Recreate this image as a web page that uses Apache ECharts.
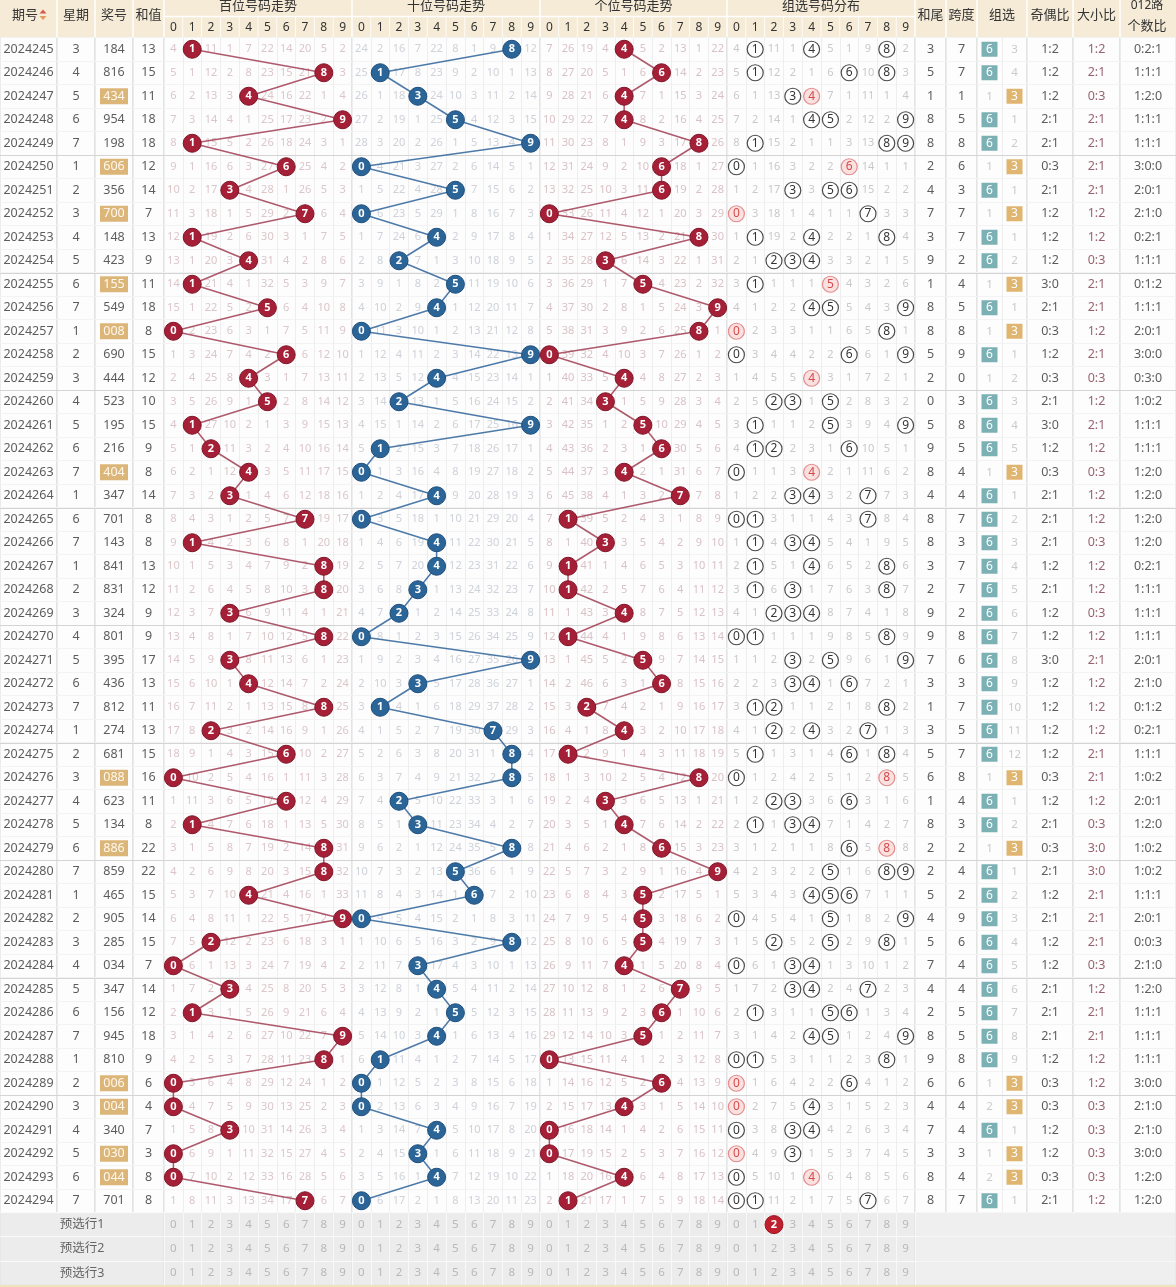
<!DOCTYPE html>
<html><head><meta charset="utf-8">
<script src="https://cdn.jsdelivr.net/npm/echarts@6/dist/echarts.min.js"></script>
<style>html,body{margin:0;padding:0;background:#fff}#c{width:1176px;height:1287px}</style>
</head><body><div id="c"></div><script>
// ---------------- DATA ----------------
const issues = [2024245,2024246,2024247,2024248,2024249,2024250,2024251,2024252,2024253,2024254,
  2024255,2024256,2024257,2024258,2024259,2024260,2024261,2024262,2024263,2024264,
  2024265,2024266,2024267,2024268,2024269,2024270,2024271,2024272,2024273,2024274,
  2024275,2024276,2024277,2024278,2024279,2024280,2024281,2024282,2024283,2024284,
  2024285,2024286,2024287,2024288,2024289,2024290,2024291,2024292,2024293,2024294];
const weekdays = [3,4,5,6,7,1,2,3,4,5, 6,7,1,2,3,4,5,6,7,1, 6,7,1,2,3,4,5,6,7,1, 2,3,4,5,6,7,1,2,3,4, 5,6,7,1,2,3,4,5,6,7];
const draws = ["184","816","434","954","198","606","356","700","148","423",
  "155","549","008","690","444","523","195","216","404","347",
  "701","143","841","831","324","801","395","436","812","274",
  "681","088","623","134","886","859","465","905","285","034",
  "347","156","945","810","006","004","340","030","044","701"];
const sums = [13,15,11,18,18,12,14,7,13,9, 11,18,8,15,12,10,15,9,8,14, 8,8,13,12,9,9,17,13,11,13,
  15,16,11,8,22,22,15,14,15,7, 14,12,18,9,6,4,7,3,8,8];
// omission values shown in the first row (2024245); hit cells marked 0
const firstBai = [4,0,11,1,7,22,14,20,5,2];
const firstShi = [24,2,16,7,22,8,1,9,0,12];
const firstGe  = [7,26,19,4,0,5,2,13,1,22];
const firstZu  = [4,0,11,1,0,5,1,9,0,2];
const firstZu6 = 0, firstZu3 = 3;
const digitLabels = ["0","1","2","3","4","5","6","7","8","9"];
const presetLabels = ["预选行1","预选行2","预选行3"];
const presetPick = {row:0, digit:2};   // red ball in 组选 preselect row 1
const groupTitles = ["百位号码走势","十位号码走势","个位号码走势","组选号码分布"];

// ---------------- derived tables ----------------
const D = draws.map(s => s.split('').map(Number));
function omission(first, hitsPerRow) {
  const out = []; let prev = null;
  hitsPerRow.forEach((h, r) => {
    const row = [];
    for (let d = 0; d < 10; d++) row.push(h.includes(d) ? 0 : (r === 0 ? first[d] : prev[d] + 1));
    out.push(row); prev = row;
  });
  return out;
}
const omBai = omission(firstBai, D.map(x => [x[0]]));
const omShi = omission(firstShi, D.map(x => [x[1]]));
const omGe  = omission(firstGe,  D.map(x => [x[2]]));
const omZu  = omission(firstZu,  D.map(x => x));
const kinds = D.map(x => new Set(x).size); // 3 组六, 2 组三, 1 豹子
let z6 = [], z3 = [];
kinds.forEach((k, r) => {
  z6.push(k === 3 ? 0 : (r === 0 ? firstZu6 : z6[r-1] + 1));
  z3.push(k === 2 ? 0 : (r === 0 ? firstZu3 : z3[r-1] + 1));
});

// ---------------- layout ----------------
const FONT = "'Noto Sans','Noto Sans CJK SC',sans-serif";
const TOP = 37.5, ROW_H = 23.5, NROWS = issues.length;
const PRE_TOP = TOP + NROWS * ROW_H, PRE_H = 24.2;
const cols = [
  {key:'issue', left:0, width:57, n:1}, {key:'week', left:57, width:38, n:1},
  {key:'draw', left:95, width:38, n:1}, {key:'sum', left:133, width:31, n:1},
  {key:'bai', left:164, width:188, n:10}, {key:'shi', left:352, width:188, n:10},
  {key:'ge', left:540, width:187, n:10}, {key:'zu', left:727, width:188, n:10},
  {key:'tail', left:915, width:31, n:1}, {key:'span', left:946, width:31, n:1},
  {key:'zx', left:977, width:50, n:2}, {key:'oe', left:1027, width:46, n:1},
  {key:'bs', left:1073, width:47, n:1}, {key:'r012', left:1120, width:56, n:1}
];
const grids = [], xAxes = [], yAxes = [], series = [];
function addGrid(l, t, w, h, n, rows, o) {
  const idx = grids.length;
  grids.push({left:l, top:t, width:w, height:h, show:true, backgroundColor:o.bg, borderColor:o.border, borderWidth:1, containLabel:false, outerBoundsMode:'none'});
  xAxes.push({type:'category', gridIndex:idx, data: digitLabels.slice(0, n), position:'top',
    axisLine:{show:false}, axisTick:{show:false},
    axisLabel: o.xLabel ? {show:true, interval:0, margin:4, fontSize:12, color:'#333', fontFamily:FONT} : {show:false},
    splitLine:{show:n > 1, interval:0, lineStyle:{color:o.vline, width:1}}});
  yAxes.push({type:'category', gridIndex:idx, inverse:true, data: Array.from({length:rows}, (_, i) => String(i)),
    axisLine:{show:false}, axisTick:{show:false}, axisLabel:{show:false},
    splitLine:{show:true, interval:0, lineStyle:{color:o.hline, width:1}}});
  return idx;
}
function textSeries(g, data, color, size, extra) {
  return Object.assign({type:'scatter', xAxisIndex:g, yAxisIndex:g, silent:true, animation:false,
    symbol:'circle', symbolSize:1, itemStyle:{color:'rgba(0,0,0,0)'}, z:3,
    label:{show:true, position:'inside', formatter:p => p.value[2], color:color, fontSize:size, fontFamily:FONT},
    data:data}, extra || {});
}
function ballSeries(g, data, color, border) {
  return {type:'scatter', xAxisIndex:g, yAxisIndex:g, silent:true, animation:false, symbol:'circle', symbolSize:18, z:6,
    itemStyle:{color:color, borderColor:border, borderWidth:1, opacity:1},
    label:{show:true, position:'inside', formatter:p => p.value[2], color:'#fff', fontSize:11, fontWeight:'bold', fontFamily:FONT},
    data:data};
}
function separatorSeries(g) {
  const rows = [];
  for (let r = 5; r < NROWS; r += 5) rows.push([0, r]);
  return {type:'custom', xAxisIndex:g, yAxisIndex:g, silent:true, animation:false, z:2, encode:{x:0, y:1}, data:rows,
    renderItem:(params, api) => {
      const c = api.coord([0, api.value(1)]); const s = api.size([1, 1]); const cs = params.coordSys;
      const y = Math.round(c[1] - s[1] / 2) + 0.5;
      return {type:'line', shape:{x1:cs.x, y1:y, x2:cs.x + cs.width, y2:y}, style:{stroke:'#d4d4d4', lineWidth:1}};
    }};
}

const G = {};
cols.forEach(c => {
  const trend = c.n === 10;
  G[c.key] = addGrid(c.left, TOP, c.width, NROWS * ROW_H, c.n, NROWS,
    {bg:'#fdfdfd', border:'#dadada', xLabel:trend, vline:'#eeeeee', hline:'#f3f3f3'});
  series.push(separatorSeries(G[c.key]));
});

// left info columns
const black = '#333';
series.push(textSeries(G.issue, issues.map((v, r) => [0, r, String(v)]), black, 12.5));
series.push(textSeries(G.week, weekdays.map((v, r) => [0, r, String(v)]), black, 12.5));
series.push(textSeries(G.sum, sums.map((v, r) => [0, r, String(v)]), black, 12.5));
series.push({type:'scatter', xAxisIndex:G.draw, yAxisIndex:G.draw, silent:true, animation:false, symbol:'rect', symbolSize:[28, 16], z:3,
  itemStyle:{color:'#dcb679', opacity:1},
  label:{show:true, position:'inside', formatter:p => p.value[2], color:'#fff9ee', fontSize:12.5, fontFamily:FONT},
  data: draws.map((v, r) => [0, r, v]).filter((_, r) => kinds[r] === 2)});
series.push(textSeries(G.draw, draws.map((v, r) => [0, r, v]).filter((_, r) => kinds[r] !== 2), black, 12.5));

// trend regions
const trendDefs = [
  {key:'bai', om:omBai, pos:0, txt:'#d2b8bc', ball:'#a51f37', border:'#7e1427', line:'rgba(160,60,82,0.85)'},
  {key:'shi', om:omShi, pos:1, txt:'#c2c7d0', ball:'#2b6598', border:'#1c4d7c', line:'rgba(58,108,158,0.9)'},
  {key:'ge',  om:omGe,  pos:2, txt:'#d0b3b8', ball:'#a51f37', border:'#7e1427', line:'rgba(160,60,82,0.85)'}
];
trendDefs.forEach(t => {
  const g = G[t.key];
  const txt = [];
  t.om.forEach((row, r) => row.forEach((v, d) => { if (v > 0) txt.push([d, r, String(v)]); }));
  series.push(textSeries(g, txt, t.txt, 11));
  series.push({type:'line', xAxisIndex:g, yAxisIndex:g, silent:true, animation:false, symbol:'none', z:5,
    lineStyle:{color:t.line, width:1.5}, data: D.map((x, r) => [x[t.pos], r])});
  series.push(ballSeries(g, D.map((x, r) => [x[t.pos], r, String(x[t.pos])]), t.ball, t.border));
});

// 组选号码分布
{
  const g = G.zu; const txt = [], single = [], dbl = [];
  omZu.forEach((row, r) => row.forEach((v, d) => { if (v > 0) txt.push([d, r, String(v)]); }));
  D.forEach((x, r) => {
    for (let d = 0; d < 10; d++) {
      const cnt = x.filter(v => v === d).length;
      if (cnt === 1) single.push([d, r, String(d)]);
      else if (cnt > 1) dbl.push([d, r, String(d)]);
    }
  });
  series.push(textSeries(g, txt, '#bcbcbc', 11));
  series.push({type:'scatter', xAxisIndex:g, yAxisIndex:g, silent:true, animation:false, symbol:'circle', symbolSize:16, z:4,
    itemStyle:{color:'#fff', borderColor:'#4a4a4a', borderWidth:1.2, opacity:1},
    label:{show:true, position:'inside', formatter:p => p.value[2], color:'#333', fontSize:12, fontFamily:FONT}, data:single});
  series.push({type:'scatter', xAxisIndex:g, yAxisIndex:g, silent:true, animation:false, symbol:'circle', symbolSize:16, z:4,
    itemStyle:{color:'#fbe0e0', borderColor:'#e28c8c', borderWidth:1.2, opacity:1},
    label:{show:true, position:'inside', formatter:p => p.value[2], color:'#d24a4a', fontSize:12, fontFamily:FONT}, data:dbl});
}

// right statistic columns
const tails = sums.map(s => s % 10);
const spans = D.map(x => Math.max(...x) - Math.min(...x));
const oe = D.map(x => x.filter(v => v % 2 === 1).length + ':' + x.filter(v => v % 2 === 0).length);
const bs = D.map(x => x.filter(v => v >= 5).length + ':' + x.filter(v => v < 5).length);
const r012 = D.map(x => [0, 1, 2].map(k => x.filter(v => v % 3 === k).length).join(':'));
series.push(textSeries(G.tail, tails.map((v, r) => [0, r, String(v)]), black, 12.5));
series.push(textSeries(G.span, spans.map((v, r) => [0, r, String(v)]), black, 12.5));
series.push(textSeries(G.oe, oe.map((v, r) => [0, r, v]), black, 12.5));
series.push(textSeries(G.bs, bs.map((v, r) => [0, r, v]), '#7e3a4b', 12.5));
series.push(textSeries(G.r012, r012.map((v, r) => [0, r, v]), black, 12.5));
{
  const g = G.zx;
  const box6 = [], box3 = [], txt = [];
  kinds.forEach((k, r) => {
    if (k === 3) { box6.push([0, r, '6']); txt.push([1, r, String(z3[r])]); }
    else if (k === 2) { box3.push([1, r, '3']); txt.push([0, r, String(z6[r])]); }
    else { txt.push([0, r, String(z6[r])]); txt.push([1, r, String(z3[r])]); }
  });
  series.push(textSeries(g, txt, '#bdbdbd', 11.5));
  series.push({type:'scatter', xAxisIndex:g, yAxisIndex:g, silent:true, animation:false, symbol:'rect', symbolSize:[16, 15], z:4,
    itemStyle:{color:'#7bb1b4', opacity:1}, label:{show:true, position:'inside', formatter:p => p.value[2], color:'#fff', fontSize:12, fontFamily:FONT}, data:box6});
  series.push({type:'scatter', xAxisIndex:g, yAxisIndex:g, silent:true, animation:false, symbol:'rect', symbolSize:[16, 15], z:4,
    itemStyle:{color:'#dfb56f', opacity:1}, label:{show:true, position:'inside', formatter:p => p.value[2], color:'#fff', fontSize:12, fontFamily:FONT}, data:box3});
}

// preselect rows
{
  const po = {bg:'#ececec', border:'#e2e2e2', xLabel:false, vline:'#f8f8f8', hline:'#fafafa'};
  const gl = addGrid(0, PRE_TOP, 164, 3 * PRE_H, 1, 3, po);
  series.push(textSeries(gl, presetLabels.map((v, r) => [0, r, v]), '#444', 12.5));
  ['bai', 'shi', 'ge', 'zu'].forEach((k, i) => {
    const c = cols.find(cc => cc.key === k);
    const g = addGrid(c.left, PRE_TOP, c.width, 3 * PRE_H, 10, 3, po);
    const txt = [];
    for (let r = 0; r < 3; r++) for (let d = 0; d < 10; d++) {
      if (k === 'zu' && r === presetPick.row && d === presetPick.digit) continue;
      txt.push([d, r, digitLabels[d]]);
    }
    series.push(textSeries(g, txt, '#ababab', 11.5));
    if (k === 'zu') series.push(ballSeries(g, [[presetPick.digit, presetPick.row, digitLabels[presetPick.digit]]], '#c01f2e', '#9a1422'));
  });
  addGrid(915, PRE_TOP, 261, 3 * PRE_H, 1, 3, {bg:'#efefef', border:'#e2e2e2', xLabel:false, vline:'#f8f8f8', hline:'#f6f6f6'});
}

// ---------------- header (decoration) ----------------
const graphic = [];
const headH = TOP;
graphic.push({type:'rect', z:-1, shape:{x:0, y:0, width:1176, height:headH}, style:{fill:'#f5ebd7'}});
[57,95,133,164,352,540,727,915,946,977,1027,1073,1120].forEach(x =>
  graphic.push({type:'line', shape:{x1:x, y1:0, x2:x, y2:headH}, style:{stroke:'#fff', lineWidth:1.5}}));
graphic.push({type:'line', shape:{x1:164, y1:16.5, x2:915, y2:16.5}, style:{stroke:'#fff', lineWidth:1.5}});
[[164,188],[352,188],[540,187],[727,188]].forEach(([l, w]) => {
  for (let k = 1; k < 10; k++) {
    const x = l + k * w / 10;
    graphic.push({type:'line', shape:{x1:x, y1:17, x2:x, y2:headH}, style:{stroke:'rgba(255,255,255,0.85)', lineWidth:1}});
  }
});
function htext(t, x, y, size) {
  graphic.push({type:'text', x:x, y:y, z:10, style:{text:t, align:'center', verticalAlign:'middle', textAlign:'center', textVerticalAlign:'middle', fill:'#333', font:(size || 13) + 'px ' + FONT}});
}
htext('期号', 25, 15); htext('星期', 76, 15); htext('奖号', 114, 15); htext('和值', 148.5, 15);
groupTitles.forEach((t, i) => htext(t, [258, 446, 633.5, 821][i], 6));
htext('和尾', 930.5, 15); htext('跨度', 961.5, 15); htext('组选', 1002, 15);
htext('奇偶比', 1050, 15); htext('大小比', 1096.5, 15);
htext('012路', 1147, 6, 12); htext('个数比', 1147, 26, 13);
graphic.push({type:'polygon', z:10, shape:{points:[[39.5,13.5],[46.5,13.5],[43,9.5]]}, style:{fill:'#d65a48'}});
graphic.push({type:'polygon', z:10, shape:{points:[[39.5,16],[46.5,16],[43,20]]}, style:{fill:'#e39a5a'}});
graphic.push({type:'rect', z:10, shape:{x:0, y:1285, width:1176, height:2}, style:{fill:'#f1e2c2'}});

const chart = echarts.init(document.getElementById('c'), null, {renderer:'canvas', width:1176, height:1287});
chart.setOption({animation:false, backgroundColor:'#fff', grid:grids, xAxis:xAxes, yAxis:yAxes, series:series, graphic:graphic});
</script></body></html>
